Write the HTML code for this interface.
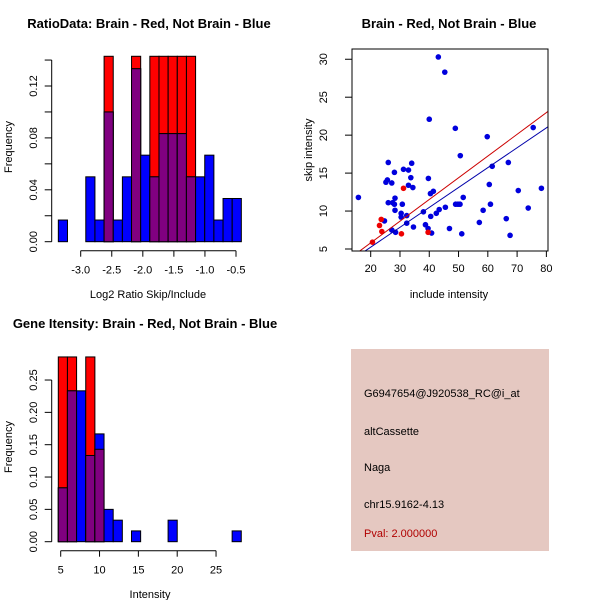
<!DOCTYPE html>
<html><head><meta charset="utf-8"><style>
body{margin:0;background:#fff;}
svg{display:block;font-family:"Liberation Sans",sans-serif;}
</style></head><body>
<svg id="s" width="600" height="600" viewBox="0 0 600 600">
<rect width="600" height="600" fill="#fff"/>
<g id="h1"></g>
<g id="h2"></g>
<g id="sc"></g>
<g>
<rect x="351" y="349" width="198" height="202" fill="#e5c8c1"/>
<g font-size="11" fill="#000">
<text x="364" y="397">G6947654@J920538_RC@i_at</text>
<text x="364" y="435">altCassette</text>
<text x="364" y="471">Naga</text>
<text x="364" y="508">chr15.9162-4.13</text>
<text x="364" y="537" fill="#b00000">Pval: 2.000000</text>
</g></g>
</svg>
<script>
// Ratio histogram data
const ratioBreakStart = -3.36, ratioBinWidth = 0.1473;
const ratioBlue = [0.0167,0,0,0.05,0.0167,0.1,0.0167,0.05,0.1333,0.0667,0.05,0.0833,0.0833,0.0833,0.05,0.05,0.0667,0.0167,0.0333,0.0333];
const ratioRed  = [0,0,0,0,0,0.1429,0,0,0.1429,0,0.1429,0.1429,0.1429,0.1429,0.1429,0,0,0,0,0];
const ratioXTicks = [-3.0,-2.5,-2.0,-1.5,-1.0,-0.5];
const ratioYTicks = [0,0.02,0.04,0.06,0.08,0.10,0.12,0.14];
const ratioYLabels = ["0.00","","0.04","","0.08","","0.12",""];
// Intensity histogram data
const intBreakStart = 4.69, intBinWidth = 1.178;
const intBlue = [0.0833,0.2333,0.2333,0.1333,0.1667,0.05,0.0333,0,0.0167,0,0,0,0.0333,0,0,0,0,0,0,0.0167];
const intRed  = [0.2857,0.2857,0,0.2857,0.1429,0,0,0,0,0,0,0,0,0,0,0,0,0,0,0];
const intXTicks = [5,10,15,20,25];
const intYTicks = [0,0.05,0.10,0.15,0.20,0.25];
const intYLabels = ["0.00","0.05","0.10","0.15","0.20","0.25"];
// Scatter data
const blueX = [15.8,26.0,25.7,25.2,27.2,28.1,26.0,27.5,28.3,28.1,24.7,28.3,27.2,28.5,30.4,30.4,30.8,31.2,32.3,32.3,32.9,32.9,33.7,34.0,34.4,34.6,38.0,38.7,39.7,39.6,40.0,40.4,41.4,40.5,40.8,42.4,43.1,43.4,45.3,45.5,46.9,48.9,49.0,49.8,50.5,50.6,51.1,51.6,57.1,58.4,59.8,60.5,60.9,61.5,66.3,67.0,67.6,70.4,73.8,75.5,78.3];
const blueY = [11.8,16.4,14.1,13.8,13.7,15.1,11.1,11.1,11.7,10.9,8.7,10.1,7.5,7.2,9.7,9.2,10.9,15.5,9.4,8.4,15.4,13.4,14.4,16.3,13.1,7.9,9.9,8.2,14.3,7.7,22.1,12.3,12.6,9.3,7.1,9.7,30.3,10.2,28.3,10.5,7.7,20.9,10.9,10.9,10.9,17.3,7.0,11.8,8.5,10.1,19.8,13.5,10.9,15.9,9.0,16.4,6.8,12.7,10.4,21.0,13.0];
const redX = [20.6,23.0,23.6,23.8,31.2,30.5,39.6];
const redY = [5.9,8.1,8.9,7.3,13.0,7.0,7.2];
const redFit = [0.09,0.286];
const blueFit = [0.0,0.262];
const scXTicks = [20,30,40,50,60,70,80];
const scYTicks = [5,10,15,20,25,30];

const NS="http://www.w3.org/2000/svg";
function mk(parent,tag,attrs){const e=document.createElementNS(NS,tag);for(const k in attrs)e.setAttribute(k,attrs[k]);parent.appendChild(e);return e;}

function hist(g,o){
  const xs=v=>o.x0+(v-o.xv0)*o.kx, ys=f=>o.y0-f*o.ky;
  for(let i=0;i<o.blue.length;i++){
    const a=o.start+i*o.w, b=a+o.w, x1=xs(a), x2=xs(b);
    const r=o.red[i], bl=o.blue[i];
    if(r>0){const e=mk(g,'rect',{x:x1,y:ys(r),width:x2-x1,height:ys(0)-ys(r),fill:'#ff0000',stroke:'#000','stroke-width':1});
      
      }
    if(bl>0){const e=mk(g,'rect',{x:x1,y:ys(bl),width:x2-x1,height:ys(0)-ys(bl),fill:'#0000ff',stroke:'#000','stroke-width':1});
      
      }
    const m=Math.min(r,bl);
    if(m>0){const e=mk(g,'rect',{x:x1,y:ys(m),width:x2-x1,height:ys(0)-ys(m),fill:'#800080',stroke:'#000','stroke-width':1});
      
      }
  }
  const ya=mk(g,'line',{x1:o.yax,x2:o.yax,y1:ys(o.yt[0]),y2:ys(o.yt[o.yt.length-1]),stroke:'#000'});
  
  
  o.yt.forEach((t,i)=>{mk(g,'line',{x1:o.yax-7,x2:o.yax,y1:ys(t),y2:ys(t),stroke:'#000'});
    if(o.yl[i]){const tx=mk(g,'text',{x:0,y:0,'font-size':11,'text-anchor':'middle',transform:`translate(37,${ys(t)}) rotate(-90)`});tx.textContent=o.yl[i];
      
      }});
  const xa=mk(g,'line',{x1:xs(o.xt[0]),x2:xs(o.xt[o.xt.length-1]),y1:o.xay,y2:o.xay,stroke:'#000'});
  
  
  o.xt.forEach(t=>{mk(g,'line',{x1:xs(t),x2:xs(t),y1:o.xay,y2:o.xay+6,stroke:'#000'});
    const tx=mk(g,'text',{x:xs(t),y:o.xay+23,'font-size':11,'text-anchor':'middle'});tx.textContent=t.toFixed(o.dec);
    
    });
  let t=mk(g,'text',{x:o.tx,y:o.ty,'font-size':13,'font-weight':'bold','text-anchor':'middle'});t.textContent=o.title;
  
  
  t=mk(g,'text',{x:o.xlx,y:o.xly,'font-size':11,'text-anchor':'middle'});t.textContent=o.xlab;
  
  
  t=mk(g,'text',{x:0,y:0,'font-size':11,'text-anchor':'middle',transform:`translate(12,${o.fy}) rotate(-90)`});t.textContent='Frequency';
  
  
}
hist(document.getElementById('h1'),{x0:80.7,xv0:-3,kx:62.12,y0:241.7,ky:1297.5,start:ratioBreakStart,w:ratioBinWidth,blue:ratioBlue,red:ratioRed,
  yt:ratioYTicks,yl:ratioYLabels,xt:ratioXTicks,yax:51.7,xay:250.7,dec:1,title:'RatioData: Brain - Red, Not Brain - Blue',tx:149,ty:28,xlab:'Log2 Ratio Skip/Include',xlx:148,xly:298,fy:147});
hist(document.getElementById('h2'),{x0:60.7,xv0:5,kx:7.767,y0:541.7,ky:646.7,start:intBreakStart,w:intBinWidth,blue:intBlue,red:intRed,
  yt:intYTicks,yl:intYLabels,xt:intXTicks,yax:51.7,xay:550.7,dec:0,title:'Gene Itensity: Brain - Red, Not Brain - Blue',tx:145,ty:328,xlab:'Intensity',xlx:150,xly:598,fy:447});

(function(){
  const g=document.getElementById('sc');
  const L=352,R=548,T=49,B=251;
  const xs=v=>370.7+(v-20)*2.928, ys=v=>249-(v-5)*7.59;
  let t=mk(g,'text',{x:449,y:28,'font-size':13,'font-weight':'bold','text-anchor':'middle'});t.textContent='Brain - Red, Not Brain - Blue';
  
  
  const cp=mk(g,'clipPath',{id:'clip'});mk(cp,'rect',{x:L,y:T,width:R-L,height:B-T});
  const pg=mk(g,'g',{'clip-path':'url(#clip)'});
  for(let i=0;i<blueX.length;i++){const c=mk(pg,'circle',{cx:xs(blueX[i]),cy:ys(blueY[i]),r:2.8,fill:'#0000dd'});
    
    }
  for(let i=0;i<redX.length;i++){const c=mk(pg,'circle',{cx:xs(redX[i]),cy:ys(redY[i]),r:2.8,fill:'#ee0000'});
    
    }
  const xa=0,xb=100;
  let l=mk(pg,'line',{x1:xs(xa),y1:ys(redFit[0]+redFit[1]*xa),x2:xs(xb),y2:ys(redFit[0]+redFit[1]*xb),stroke:'#cc0000','stroke-width':1});
  
  
  l=mk(pg,'line',{x1:xs(xa),y1:ys(blueFit[0]+blueFit[1]*xa),x2:xs(xb),y2:ys(blueFit[0]+blueFit[1]*xb),stroke:'#0000aa','stroke-width':1});
  
  
  const box=mk(g,'rect',{x:L,y:T,width:R-L,height:B-T,fill:'none',stroke:'#000'});
  
  
  scXTicks.forEach(v=>{mk(g,'line',{x1:xs(v),x2:xs(v),y1:B,y2:B+6,stroke:'#000'});
    const tx=mk(g,'text',{x:xs(v),y:272,'font-size':11,'text-anchor':'middle'});tx.textContent=v;
    
    });
  scYTicks.forEach(v=>{mk(g,'line',{x1:L-7,x2:L,y1:ys(v),y2:ys(v),stroke:'#000'});
    const tx=mk(g,'text',{x:0,y:0,'font-size':11,'text-anchor':'middle',transform:`translate(327,${ys(v)}) rotate(-90)`});tx.textContent=v;
    
    });
  t=mk(g,'text',{x:449,y:298,'font-size':11,'text-anchor':'middle'});t.textContent='include intensity';
  
  
  t=mk(g,'text',{x:0,y:0,'font-size':11,'text-anchor':'middle',transform:'translate(312,150) rotate(-90)'});t.textContent='skip intensity';
  
  
})();
</script>
</body></html>
